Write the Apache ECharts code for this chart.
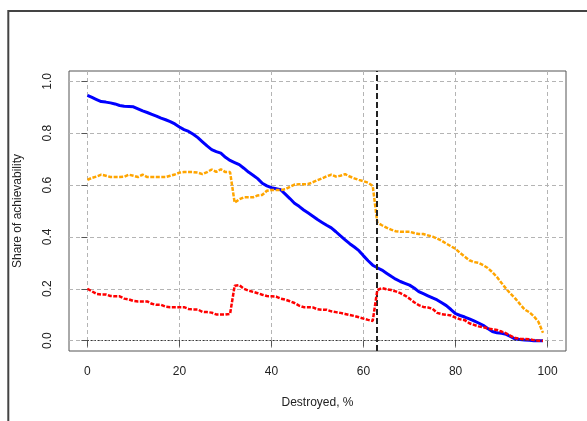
<!DOCTYPE html>
<html>
<head>
<meta charset="utf-8">
<script src="https://cdn.jsdelivr.net/npm/echarts@6/dist/echarts.min.js"></script>
<style>
html,body{margin:0;padding:0;background:#fff;}
#chart{width:587px;height:421px;}
</style>
</head>
<body>
<div id="chart"></div>
<script>
const destroyed = [0,1,2,3,4,5,6,7,8,9,10,11,12,13,14,15,16,17,18,19,20,21,22,23,24,25,26,27,28,29,30,31,32,33,34,35,36,37,38,39,40,41,42,43,44,45,46,47,48,49,50,51,52,53,54,55,56,57,58,59,60,61,62,63,64,65,66,67,68,69,70,71,72,73,74,75,76,77,78,79,80,81,82,83,84,85,86,87,88,89,90,91,92,93,94,95,96,97,98,99];

const blueValues = [0.946,0.938,0.930,0.922,0.920,0.917,0.913,0.907,0.904,0.903,
0.902,0.894,0.886,0.880,0.873,0.866,0.858,0.852,0.845,0.836,
0.824,0.814,0.807,0.796,0.783,0.767,0.751,0.737,0.729,0.723,
0.707,0.695,0.687,0.679,0.665,0.650,0.638,0.625,0.607,0.597,
0.590,0.586,0.582,0.565,0.548,0.530,0.518,0.504,0.492,0.480,
0.467,0.456,0.445,0.435,0.420,0.404,0.389,0.374,0.361,0.347,
0.327,0.308,0.291,0.281,0.272,0.260,0.248,0.237,0.228,0.221,
0.214,0.203,0.189,0.181,0.173,0.165,0.157,0.146,0.135,0.120,
0.104,0.097,0.091,0.084,0.076,0.068,0.059,0.047,0.035,0.030,
0.028,0.024,0.015,0.006,0.004,0.002,0.001,0,0,0];

const orangeValues = [0.620,0.628,0.633,0.640,0.636,0.631,0.631,0.631,0.632,0.640,
0.636,0.631,0.640,0.631,0.631,0.631,0.631,0.631,0.636,0.641,
0.648,0.650,0.650,0.650,0.648,0.642,0.650,0.660,0.651,0.661,
0.650,0.650,0.532,0.545,0.553,0.553,0.553,0.560,0.562,0.578,
0.581,0.581,0.581,0.584,0.593,0.602,0.603,0.603,0.604,0.611,
0.619,0.626,0.634,0.640,0.633,0.636,0.642,0.633,0.626,0.620,
0.615,0.609,0.597,0.455,0.445,0.436,0.428,0.422,0.420,0.420,
0.420,0.415,0.411,0.411,0.406,0.401,0.394,0.385,0.374,0.364,
0.354,0.338,0.324,0.310,0.303,0.300,0.291,0.280,0.264,0.245,
0.222,0.200,0.180,0.162,0.141,0.120,0.110,0.094,0.073,0.030];

const redValues = [0.200,0.190,0.180,0.178,0.178,0.172,0.171,0.171,0.162,0.159,
0.153,0.151,0.151,0.151,0.142,0.138,0.138,0.131,0.129,0.129,
0.129,0.129,0.122,0.120,0.120,0.111,0.110,0.108,0.101,0.101,
0.101,0.103,0.212,0.214,0.200,0.193,0.188,0.183,0.177,0.172,
0.171,0.170,0.162,0.158,0.152,0.145,0.135,0.129,0.129,0.128,
0.121,0.119,0.119,0.113,0.110,0.107,0.103,0.099,0.095,0.090,
0.085,0.080,0.076,0.195,0.203,0.198,0.195,0.190,0.183,0.174,
0.162,0.148,0.137,0.130,0.128,0.123,0.107,0.102,0.100,0.097,
0.089,0.082,0.079,0.067,0.061,0.055,0.052,0.047,0.044,0.041,
0.035,0.028,0.018,0.010,0.007,0.006,0.005,0.002,0,0];

const xTicks = [0,20,40,60,80,100];
const yTicks = [0,0.2,0.4,0.6,0.8,1.0];
const thresholdX = 62.8;
const zeroLine = [0,99];

function pairs(xs, ys){ return xs.map((x,i)=>[x, ys[i]]); }

const chart = echarts.init(document.getElementById('chart'), null, {renderer:'canvas'});
const fontFamily = 'Liberation Sans, Arial, sans-serif';

chart.setOption({
  animation:false,
  backgroundColor:'#fff',
  grid:{left:69, top:71, right:21, bottom:70, show:true, borderColor:'#555', borderWidth:1, backgroundColor:'transparent'},
  graphic:[{type:'rect', shape:{x:8.3, y:11, width:700, height:600}, style:{fill:'none', stroke:'#444', lineWidth:2}, silent:true, z:0}],
  xAxis:{
    type:'value', min:-4, max:104,
    name:'Destroyed, %', nameLocation:'middle', nameGap:46,
    nameTextStyle:{fontSize:12, color:'#222', fontFamily:fontFamily},
    axisLine:{show:false},
    axisTick:{show:true, customValues:xTicks, length:6, inside:false, lineStyle:{color:'#555'}},
    axisLabel:{customValues:xTicks, fontSize:12, color:'#222', margin:15, fontFamily:fontFamily},
    splitLine:{show:true, lineStyle:{color:'#b4b4b4', type:[4,3], width:1}}
  },
  yAxis:{
    type:'value', min:-0.04, max:1.04,
    name:'Share of achievability', nameLocation:'middle', nameGap:45,
    nameTextStyle:{fontSize:12, color:'#222', fontFamily:fontFamily},
    axisLine:{show:false},
    axisTick:{show:true, customValues:yTicks, length:6, inside:false, lineStyle:{color:'#555'}},
    axisLabel:{customValues:yTicks, rotate:90, fontSize:12, color:'#222', margin:15, fontFamily:fontFamily,
      formatter:v=>v.toFixed(1)},
    splitLine:{show:true, lineStyle:{color:'#b4b4b4', type:[4,3], width:1}}
  },
  series:[
    {type:'line', name:'blue', data:pairs(destroyed, blueValues), showSymbol:false,
     lineStyle:{color:'#0000ff', width:3}, z:3,
     markLine:{silent:true, symbol:'none', label:{show:false},
       lineStyle:{color:'#222', type:[6,3], width:2},
       data:[{xAxis:thresholdX}]}},
    {type:'line', name:'orange', data:pairs(destroyed, orangeValues), showSymbol:false,
     lineStyle:{color:'#ffa500', width:2.5, type:[4,1.5], cap:'butt'}, z:4},
    {type:'line', name:'red', data:pairs(destroyed, redValues), showSymbol:false,
     lineStyle:{color:'#ff0000', width:2.5, type:[4,1.5], cap:'butt'}, z:5,
     markLine:{silent:true, symbol:'none', label:{show:false},
       lineStyle:{color:'#333', type:[1.5,2], width:1},
       data:[[{coord:[zeroLine[0],0]},{coord:[zeroLine[1],0]}]]}}
  ]
});
</script>
</body>
</html>
